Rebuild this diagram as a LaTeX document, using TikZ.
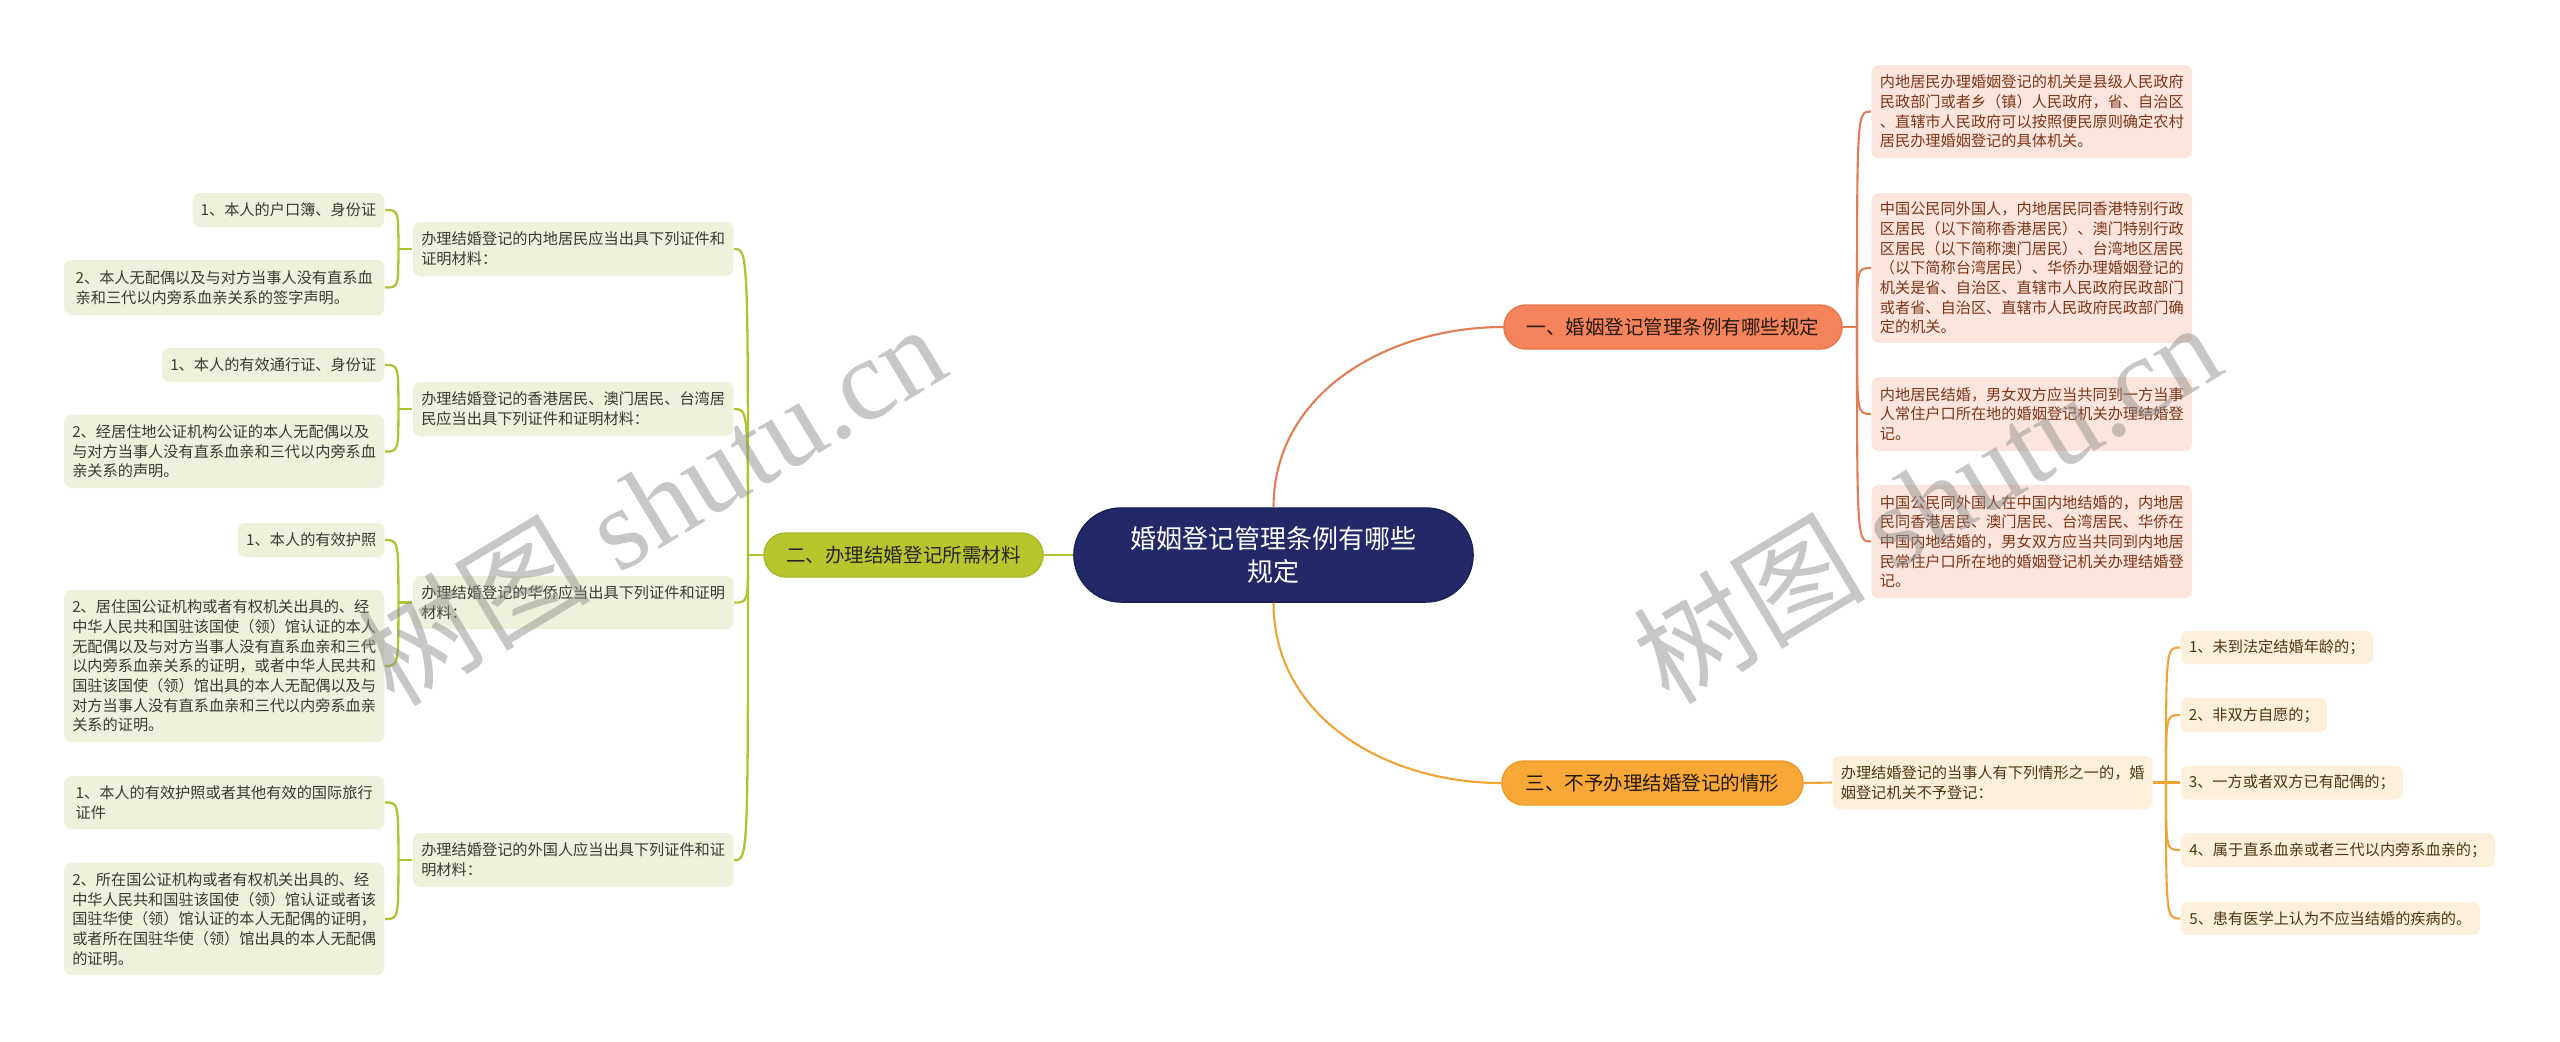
\documentclass[tikz,border=0pt]{standalone}
\usepackage{fontspec}
\newfontfamily\cjk{Noto Sans CJK SC}
\newfontfamily\wmserif{Liberation Serif}
\newcommand\fsmall{\fontsize{4.32pt}{5.6pt}\selectfont}
\newcommand\fmid{\fontsize{5.55pt}{7pt}\selectfont}
\newcommand\fbig{\fontsize{7.4pt}{9.4pt}\selectfont}
\definecolor{navy}{HTML}{222868}
\definecolor{navyd}{HTML}{1A1F55}
\definecolor{coral}{HTML}{F5845C}
\definecolor{corald}{HTML}{E8764C}
\definecolor{coralline}{HTML}{E27D55}
\definecolor{lime}{HTML}{B7C62D}
\definecolor{limed}{HTML}{A9B826}
\definecolor{limeline}{HTML}{B3C232}
\definecolor{amber}{HTML}{F7A836}
\definecolor{amberd}{HTML}{EC9A28}
\definecolor{amberline}{HTML}{F0A437}
\definecolor{pinkfill}{HTML}{FCE5DC}
\definecolor{pinktext}{HTML}{7E3518}
\definecolor{greenfill}{HTML}{EEF2DC}
\definecolor{greentext}{HTML}{3A3A33}
\definecolor{creamfill}{HTML}{FDF0DB}
\definecolor{creamtext}{HTML}{4E3612}
\tikzset{
  rootnode/.style={fill=navy, draw=navyd, line width=0.4pt, rounded corners=0.47cm, text=white, font=\cjk\fbig, align=center, inner sep=0pt},
  lvone/.style={rounded corners=0.22cm, font=\cjk\fmid, inner sep=0pt, minimum height=0.44cm, line width=0.4pt},
  pbox/.style={fill=pinkfill, text=pinktext, rounded corners=2pt, font=\cjk\fsmall, align=left, inner xsep=2.3pt, inner ysep=0pt},
  gbox/.style={fill=greenfill, text=greentext, rounded corners=2pt, font=\cjk\fsmall, align=left, inner xsep=2.3pt, inner ysep=0pt},
  obox/.style={fill=creamfill, text=creamtext, rounded corners=2pt, font=\cjk\fsmall, align=left, inner xsep=2.3pt, inner ysep=0pt},
  lc/.style={draw=coralline, line width=0.6pt},
  lg/.style={draw=limeline, line width=0.65pt},
  lo/.style={draw=amberline, line width=0.6pt},
  wm/.style={text=black!45, text opacity=0.48, font=\wmserif\fontsize{33pt}{40pt}\selectfont, inner sep=0pt}
}
\begin{document}
\begin{tikzpicture}[x=0.01cm,y=-0.01cm]
\fill[white] (0,0) rectangle (2560,1041);
\useasboundingbox (0,0) rectangle (2560,1041);

% ---- central and level-one nodes
\node[rootnode, minimum width=3.99cm, minimum height=0.94cm] (root) at (1273.5,555) {婚姻登记管理条例有哪些\\规定};
\node[lvone, fill=coral, draw=corald, text=black!80!brown, minimum width=3.38cm] (n1) at (1673,327) {一、婚姻登记管理条例有哪些规定};
\node[lvone, fill=lime, draw=limed, text=black!85, minimum width=2.79cm] (n2) at (903.5,555) {二、办理结婚登记所需材料};
\node[lvone, fill=amber, draw=amberd, text=black!80!brown, minimum width=3.01cm] (n3) at (1652.5,783) {三、不予办理结婚登记的情形};

% ---- group one (right, coral)
\node[pbox, anchor=west, minimum width=3.2cm, minimum height=0.93cm] (r1) at (1871,111.5) {内地居民办理婚姻登记的机关是县级人民政府\\民政部门或者乡（镇）人民政府，省、自治区\\、直辖市人民政府可以按照便民原则确定农村\\居民办理婚姻登记的具体机关。};
\node[pbox, anchor=west, minimum width=3.2cm, minimum height=1.50cm] (r2) at (1871,268) {中国公民同外国人，内地居民同香港特别行政\\区居民（以下简称香港居民）、澳门特别行政\\区居民（以下简称澳门居民）、台湾地区居民\\（以下简称台湾居民）、华侨办理婚姻登记的\\机关是省、自治区、直辖市人民政府民政部门\\或者省、自治区、直辖市人民政府民政部门确\\定的机关。};
\node[pbox, anchor=west, minimum width=3.2cm, minimum height=0.74cm] (r3) at (1871,414) {内地居民结婚，男女双方应当共同到一方当事\\人常住户口所在地的婚姻登记机关办理结婚登\\记。};
\node[pbox, anchor=west, minimum width=3.2cm, minimum height=1.13cm] (r4) at (1871,541.5) {中国公民同外国人在中国内地结婚的，内地居\\民同香港居民、澳门居民、台湾居民、华侨在\\中国内地结婚的，男女双方应当共同到内地居\\民常住户口所在地的婚姻登记机关办理结婚登\\记。};

% ---- group two (left, green)
\node[gbox, anchor=east, minimum width=3.2cm, minimum height=0.54cm] (L2a) at (734,249) {办理结婚登记的内地居民应当出具下列证件和\\证明材料：};
\node[gbox, anchor=east, minimum width=3.2cm, minimum height=0.54cm] (L2b) at (734,409) {办理结婚登记的香港居民、澳门居民、台湾居\\民应当出具下列证件和证明材料：};
\node[gbox, anchor=east, minimum width=3.2cm, minimum height=0.53cm] (L2c) at (734,602.5) {办理结婚登记的华侨应当出具下列证件和证明\\材料：};
\node[gbox, anchor=east, minimum width=3.2cm, minimum height=0.54cm] (L2d) at (734,860) {办理结婚登记的外国人应当出具下列证件和证\\明材料：};

\node[gbox, anchor=east, minimum width=1.91cm, minimum height=0.34cm] (a1) at (385,210) {1、本人的户口簿、身份证};
\node[gbox, anchor=east, minimum width=3.2cm, minimum height=0.55cm] (a2) at (385,287.5) {2、本人无配偶以及与对方当事人没有直系血\\亲和三代以内旁系血亲关系的签字声明。};
\node[gbox, anchor=east, minimum width=2.21cm, minimum height=0.34cm] (b1) at (385,365) {1、本人的有效通行证、身份证};
\node[gbox, anchor=east, minimum width=3.2cm, minimum height=0.73cm] (b2) at (385,451.5) {2、经居住地公证机构公证的本人无配偶以及\\与对方当事人没有直系血亲和三代以内旁系血\\亲关系的声明。};
\node[gbox, anchor=east, minimum width=1.45cm, minimum height=0.34cm] (c1) at (385,540) {1、本人的有效护照};
\node[gbox, anchor=east, minimum width=3.2cm, minimum height=1.52cm] (c2) at (385,666) {2、居住国公证机构或者有权机关出具的、经\\中华人民共和国驻该国使（领）馆认证的本人\\无配偶以及与对方当事人没有直系血亲和三代\\以内旁系血亲关系的证明，或者中华人民共和\\国驻该国使（领）馆出具的本人无配偶以及与\\对方当事人没有直系血亲和三代以内旁系血亲\\关系的证明。};
\node[gbox, anchor=east, minimum width=3.2cm, minimum height=0.53cm] (d1) at (385,802.5) {1、本人的有效护照或者其他有效的国际旅行\\证件};
\node[gbox, anchor=east, minimum width=3.2cm, minimum height=1.12cm] (d2) at (385,919) {2、所在国公证机构或者有权机关出具的、经\\中华人民共和国驻该国使（领）馆认证或者该\\国驻华使（领）馆认证的本人无配偶的证明，\\或者所在国驻华使（领）馆出具的本人无配偶\\的证明。};

% ---- group three (right, amber)
\node[obox, anchor=west, minimum width=3.19cm, minimum height=0.53cm] (L2e) at (1832,782.5) {办理结婚登记的当事人有下列情形之一的，婚\\姻登记机关不予登记：};
\node[obox, anchor=west, minimum width=1.92cm, minimum height=0.33cm] (e1) at (2180,647.5) {1、未到法定结婚年龄的；};
\node[obox, anchor=west, minimum width=1.46cm, minimum height=0.34cm] (e2) at (2180,715) {2、非双方自愿的；};
\node[obox, anchor=west, minimum width=2.22cm, minimum height=0.34cm] (e3) at (2180,782.5) {3、一方或者双方已有配偶的；};
\node[obox, anchor=west, minimum width=3.14cm, minimum height=0.34cm] (e4) at (2180,850) {4、属于直系血亲或者三代以内旁系血亲的；};
\node[obox, anchor=west, minimum width=2.99cm, minimum height=0.33cm] (e5) at (2180,918.5) {5、患有医学上认为不应当结婚的疾病的。};

% ---- connectors from the root
\draw[lc] (root.north) .. controls +(0,-115) and +(-115,0) .. (n1.west);
\draw[lo] (root.south) .. controls +(0,115) and +(-115,0) .. (n3.west);
\draw[lg] (root.west) -- (n2.east);

% ---- group one connectors
\coordinate (J1) at (1857,327);
\draw[lc] (n1.east) -- (J1);
\foreach \t in {r1,r2,r3,r4}
  \draw[lc] (J1) .. controls (J1 |- \t.west) .. (\t.west);

% ---- group two connectors
\coordinate (J2) at (748,555);
\draw[lg] (n2.west) -- (J2);
\foreach \t in {L2a,L2b,L2c,L2d}
  \draw[lg] (J2) .. controls (J2 |- \t.east) .. (\t.east);
\path (L2a.west) ++(-14,0) coordinate (ja);
\path (L2b.west) ++(-14,0) coordinate (jb);
\path (L2c.west) ++(-14,0) coordinate (jc);
\path (L2d.west) ++(-14,0) coordinate (jd);
\draw[lg] (L2a.west) -- (ja);
\draw[lg] (L2b.west) -- (jb);
\draw[lg] (L2c.west) -- (jc);
\draw[lg] (L2d.west) -- (jd);
\draw[lg] (ja) .. controls (ja |- a1.east) .. (a1.east);
\draw[lg] (ja) .. controls (ja |- a2.east) .. (a2.east);
\draw[lg] (jb) .. controls (jb |- b1.east) .. (b1.east);
\draw[lg] (jb) .. controls (jb |- b2.east) .. (b2.east);
\draw[lg] (jc) .. controls (jc |- c1.east) .. (c1.east);
\draw[lg] (jc) .. controls (jc |- c2.east) .. (c2.east);
\draw[lg] (jd) .. controls (jd |- d1.east) .. (d1.east);
\draw[lg] (jd) .. controls (jd |- d2.east) .. (d2.east);

% ---- group three connectors
\draw[lo] (n3.east) -- (L2e.west);
\coordinate (J3) at (2166,782.5);
\draw[lo] (L2e.east) -- (J3);
\foreach \t in {e1,e2,e3,e4,e5}
  \draw[lo] (J3) .. controls (J3 |- \t.west) .. (\t.west);

% ---- watermarks
\node[wm, rotate=31] (wm1) at (651,503) {{\cjk 树图} shutu.cn};
\node[wm, rotate=31] (wm2) at (1926,501) {{\cjk 树图} shutu.cn};
\end{tikzpicture}
\end{document}
